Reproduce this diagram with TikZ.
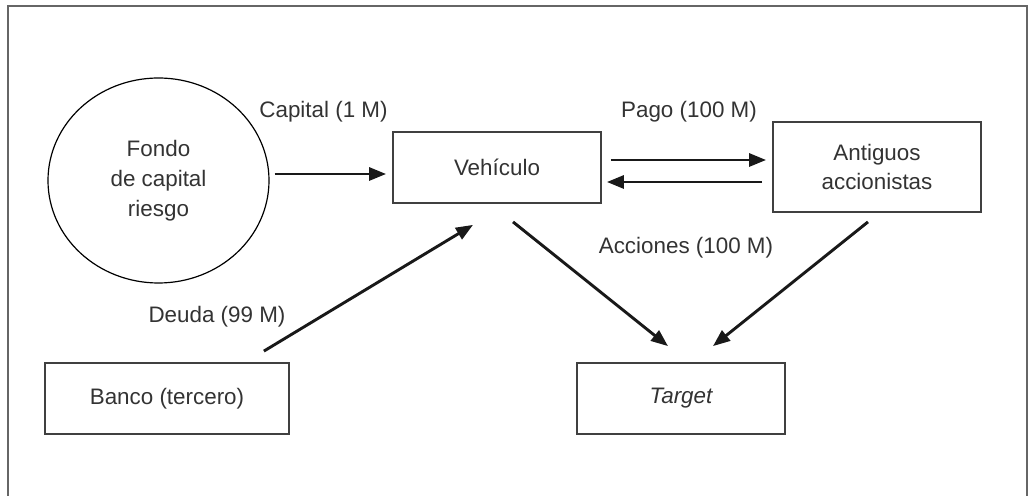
\documentclass[tikz,border=0pt]{standalone}
\usepackage{fontspec}
\setmainfont{Liberation Sans}
\usepackage{tikz}
\usetikzlibrary{arrows.meta,shapes.geometric}
\definecolor{lbtext}{HTML}{333333}
\definecolor{lbline}{HTML}{404040}
\definecolor{lbframe}{HTML}{666666}
\tikzset{
  entbox/.style={draw=lbline, line width=0.9pt, align=center, text=lbtext,
    minimum width=104pt, minimum height=35.5pt, inner sep=0pt},
  fundell/.style={ellipse, draw=black, line width=0.6pt, align=center, text=lbtext,
    minimum width=110.5pt, minimum height=102.5pt, inner sep=0pt},
  flow/.style={-{Triangle[length=8.5pt,width=6.5pt]}, line width=1.45pt, black!90},
  lbl/.style={text=lbtext},
}

\begin{document}
\begin{tikzpicture}[x=0.5pt, y=-0.5pt, font=\fontsize{11.2}{15}\selectfont]
    \useasboundingbox (0,0) rectangle (1030,496);
    % frame
    \draw[lbframe, line width=0.9pt] (8,520) -- (8,6) -- (1027,6) -- (1027,520);
    % parties
    \node[fundell] (fondo) at (158.5,180.5) {Fondo\\de capital\\riesgo};
    \node[entbox] (veh) at (497,167.5) {Vehículo};
    \node[entbox, minimum height=45pt, font=\fontsize{11.2}{14.5}\selectfont] (ant) at (877,167) {Antiguos\\accionistas};
    \node[entbox, minimum width=122pt] (banco) at (167,398.5) {Banco (tercero)};
    \node[entbox] (target) at (681,398.5) {\itshape Target};
    % labels
    \node[lbl] (lcap) at (323.5,112) {Capital (1 M)};
    \node[lbl] (lpago) at (689,112) {Pago (100 M)};
    \node[lbl] (lacc) at (686,248) {Acciones (100 M)};
    \node[lbl] (ldeu) at (217,317) {Deuda (99 M)};
    % flows
    \draw[flow] ([xshift=2.5pt,yshift=3.25pt]fondo.east) -- ([xshift=-3pt,yshift=-3.25pt]veh.west);
    \draw[flow] ([xshift=4.5pt,yshift=3.75pt]veh.east) -- ([xshift=-3pt,yshift=3.5pt]ant.west);
    \draw[flow] ([xshift=-5pt,yshift=-7.5pt]ant.west) -- ([xshift=2.5pt,yshift=-7.25pt]veh.east);
    \draw[flow] ([xshift=-13pt,yshift=5.5pt]banco.north east) -- ([xshift=-12pt,yshift=-10.5pt]veh.south);
    \draw[flow] ([xshift=8pt,yshift=-9pt]veh.south) -- ([xshift=-6.5pt,yshift=8pt]target.north);
    \draw[flow] ([xshift=-4.5pt,yshift=-4.5pt]ant.south) -- ([xshift=16pt,yshift=8pt]target.north);
\end{tikzpicture}
\end{document}
